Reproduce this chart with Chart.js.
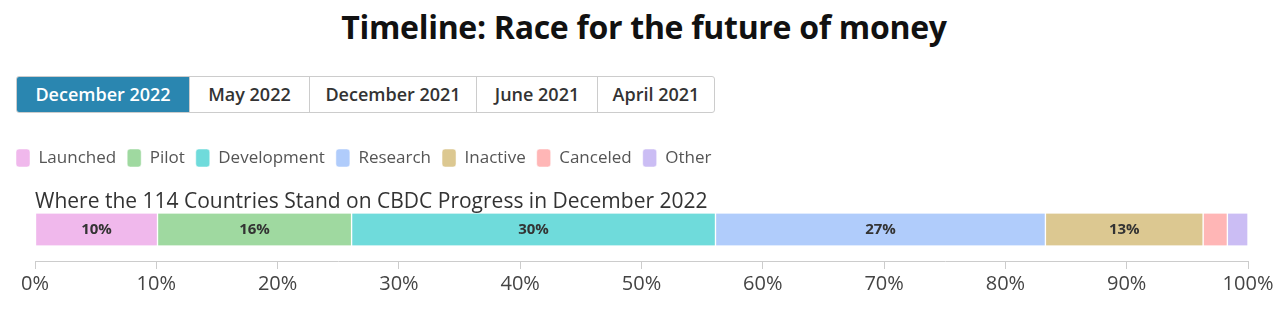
<!DOCTYPE html>
<html>
<head>
<meta charset="utf-8">
<script src="https://cdn.jsdelivr.net/npm/chart.js@4"></script>
<style>
  body { margin: 0; background: #fff; font-family: "Open Sans", sans-serif; }
  #wrap { position: relative; width: 1288px; height: 333px; overflow: hidden; }
  h1 { position: absolute; top: 7px; left: 0; width: 1288px; margin: 0; text-align: center;
       font-size: 32px; font-weight: 700; color: #111; line-height: 40px; letter-spacing: -0.3px; }
  #tabs { position: absolute; top: 76px; left: 16px; display: flex; height: 37px;
          border: 1px solid #ccc; border-radius: 3px; box-sizing: border-box; overflow: hidden; }
  #tabs div { height: 35px; line-height: 35px; text-align: center; font-size: 18px; font-weight: 600;
              color: #333; border-left: 1px solid #ccc; box-sizing: border-box; }
  #tabs div:first-child { border-left: none; }
  #tabs div.active { background: #2a86b0; color: #fff; }
  #box { position: absolute; top: 130px; left: 0; width: 1288px; height: 203px; }
</style>
</head>
<body>
<div id="wrap">
  <h1>Timeline: Race for the future of money</h1>
  <div id="tabs"></div>
  <div id="box"><canvas id="myChart"></canvas></div>
</div>
<script>
const tabs = ["December 2022", "May 2022", "December 2021", "June 2021", "April 2021"];
const tabWidths = [172, 120, 167, 121, 117];

const categories = ["Launched", "Pilot", "Development", "Research", "Inactive", "Canceled", "Other"];
const shares = [10.1, 16.0, 30.0, 27.2, 13.0, 2.0, 1.7];
const colors = ["#f0b8ec", "#9fd9a0", "#6fdbdb", "#b0ccfb", "#dcc891", "#ffb6b6", "#cbbdf4"];
const xTicks = [0, 10, 20, 30, 40, 50, 60, 70, 80, 90, 100];
const subtitle = "Where the 114 Countries Stand on CBDC Progress in December 2022";

tabs.forEach(function (t, i) {
  const d = document.createElement("div");
  d.textContent = t;
  d.style.width = tabWidths[i] + "px";
  if (i === 0) d.className = "active";
  document.getElementById("tabs").appendChild(d);
});

// percentage labels inside the wider segments
const barLabels = {
  id: "barLabels",
  afterDatasetsDraw(chart) {
    const ctx = chart.ctx;
    ctx.save();
    ctx.font = "700 15px 'Open Sans'";
    ctx.fillStyle = "#333";
    ctx.textAlign = "center";
    ctx.textBaseline = "middle";
    chart.data.datasets.forEach(function (ds, i) {
      const bar = chart.getDatasetMeta(i).data[0];
      if (ds.data[0] < 5) return;
      ctx.fillText(Math.round(ds.data[0]) + "%", (bar.x + bar.base) / 2, bar.y);
    });
    ctx.restore();
  }
};

const ctx = document.getElementById("myChart").getContext("2d");
const myChart = new Chart(ctx, {
  type: "bar",
  data: {
    labels: ["December 2022"],
    datasets: categories.map(function (c, i) {
      return {
        label: c,
        data: [shares[i]],
        backgroundColor: colors[i],
        borderColor: "#fff",
        borderWidth: { left: 1, right: 1 },
        borderSkipped: false,
        barThickness: 32,
      };
    }),
  },
  options: {
    indexAxis: "y",
    responsive: true,
    maintainAspectRatio: false,
    animation: false,
    layout: { padding: { top: 8, left: 5, right: 40, bottom: 34 } },
    plugins: {
      legend: {
        position: "top",
        align: "start",
        labels: {
          boxWidth: 14,
          boxHeight: 18,
          useBorderRadius: true,
          borderRadius: 3,
          padding: 11,
          color: "#555",
          font: { family: "Open Sans", size: 17 },
        },
      },
      title: {
        display: true,
        text: subtitle,
        align: "start",
        fullSize: false,
        weight: 500,
        color: "#333",
        font: { family: "Open Sans", size: 21, weight: "normal" },
        padding: { top: 12.4, bottom: -16.6 },
      },
      tooltip: { enabled: false },
    },
    scales: {
      x: {
        stacked: true,
        min: 0,
        max: 100,
        afterBuildTicks(scale) {
          scale.ticks = xTicks.map(v => ({ value: v }));
        },
        ticks: {
          color: "#444",
          font: { family: "Open Sans", size: 20 },
          padding: 3,
          callback: v => v + "%",
        },
        grid: { drawOnChartArea: false, drawTicks: true, tickLength: 8, color: "#ccc" },
        border: { color: "#ccc" },
      },
      y: {
        stacked: true,
        ticks: { display: false },
        grid: { display: false },
        border: { display: false },
        afterFit(scale) { scale.width = 30; },
      },
    },
  },
  plugins: [barLabels],
});
</script>
</body>
</html>
